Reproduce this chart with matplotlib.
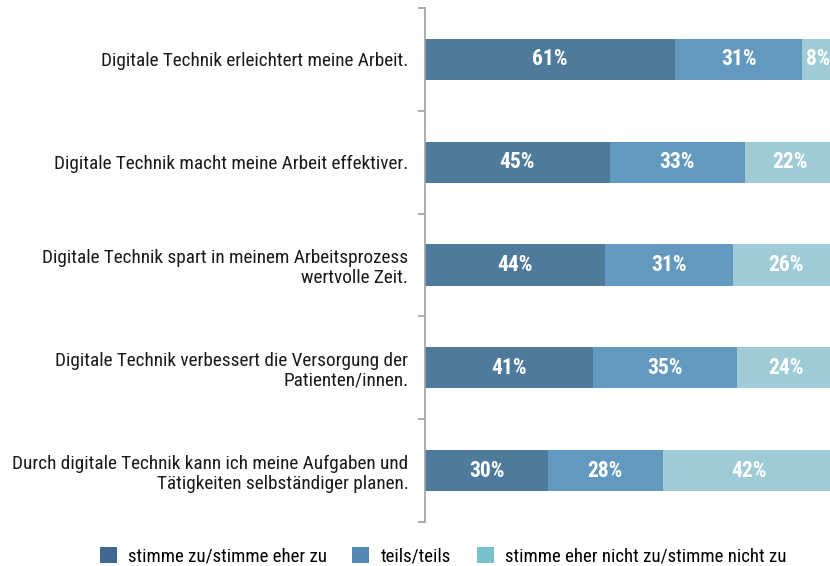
import matplotlib
matplotlib.use("Agg")
import matplotlib.pyplot as plt
from matplotlib.patches import Patch

plt.rcParams['font.family'] = ['Roboto Condensed', 'DejaVu Sans']

categories = [
    "Digitale Technik erleichtert meine Arbeit.",
    "Digitale Technik macht meine Arbeit effektiver.",
    "Digitale Technik spart in meinem Arbeitsprozess\nwertvolle Zeit.",
    "Digitale Technik verbessert die Versorgung der\nPatienten/innen.",
    "Durch digitale Technik kann ich meine Aufgaben und\nTätigkeiten selbständiger planen.",
]
zustimmung = [61, 45, 44, 41, 30]
teils = [31, 33, 31, 35, 28]
nicht = [8, 22, 26, 24, 42]
series_names = ["stimme zu/stimme eher zu", "teils/teils", "stimme eher nicht zu/stimme nicht zu"]

bar_colors = ["#4e7b9b", "#6399bf", "#9fcbd6"]
legend_colors = ["#3f6790", "#5587b3", "#79bfcc"]

fig = plt.figure(figsize=(8.3, 5.66), dpi=100)
W, H = 830, 566
x0, x1 = 425, 835
ytop, ybot = 8, 522
ax = fig.add_axes([x0 / W, 1 - ybot / H, (x1 - x0) / W, (ybot - ytop) / H])

n = len(categories)
ypos = list(range(n))
left = [0] * n
for vals, col in zip([zustimmung, teils, nicht], bar_colors):
    ax.barh(ypos, vals, left=left, height=0.4, color=col, edgecolor="none")
    for i, v in enumerate(vals):
        ax.text(left[i] + v / 2, i, f"{v}%", ha="center", va="center",
                color="white", fontsize=15.5, fontweight="bold")
    left = [l + v for l, v in zip(left, vals)]

ax.set_xlim(0, 100)
ax.set_ylim(n - 0.5, -0.5)
ax.set_xticks([])
ax.set_yticks([i - 0.5 for i in range(n + 1)])
ax.set_yticklabels([])
ax.set_yticks(ypos, minor=True)
ax.set_yticklabels(categories, minor=True, fontsize=13.9, color="#1a1a1a", ha="right",
                   multialignment="right", linespacing=1.15)
ax.tick_params(axis="y", which="minor", length=0, pad=12)
ax.tick_params(axis="y", which="major", length=5, color="#a0a0a0", width=1.2)
for s in ["top", "right", "bottom"]:
    ax.spines[s].set_visible(False)
ax.spines["left"].set_color("#a0a0a0")
ax.spines["left"].set_linewidth(1.2)

handles = [Patch(facecolor=c, edgecolor="none") for c in legend_colors]
fig.legend(handles, series_names, loc="center", bbox_to_anchor=(443 / W, 1 - 556 / H),
           ncol=3, frameon=False, fontsize=13.6, handlelength=0.9, handleheight=0.9,
           handletextpad=0.6, columnspacing=1.35)

fig.savefig("out.png", dpi=100)
